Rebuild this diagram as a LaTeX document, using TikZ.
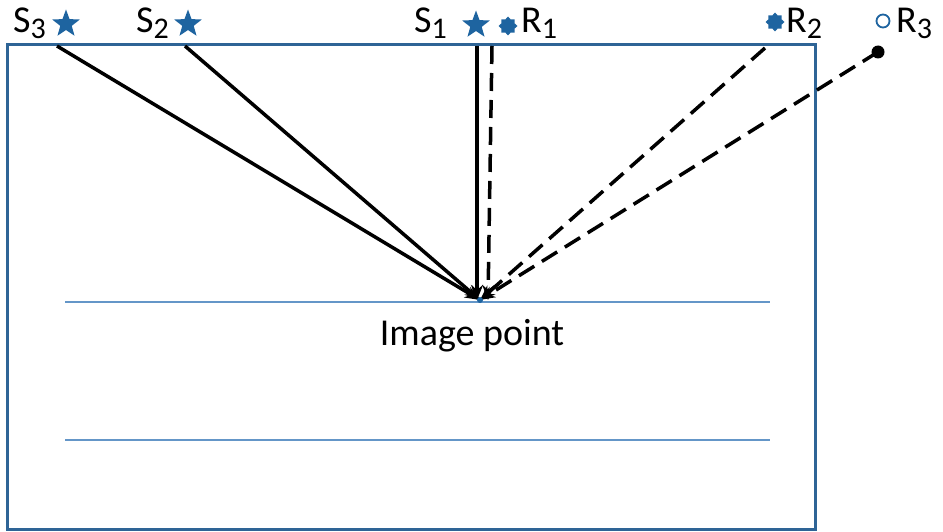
\documentclass[tikz,border=0pt]{standalone}
\usepackage{fontspec}
\setmainfont{Carlito}
\usetikzlibrary{shapes.geometric,arrows.meta}
\definecolor{frameblue}{RGB}{46,100,150}
\definecolor{lineblue}{RGB}{100,150,200}
\definecolor{markblue}{RGB}{30,100,160}
\tikzset{
  lbl/.style={anchor=base west,inner sep=0pt,font=\fontsize{38}{44}\selectfont},
  srcstar/.style={star,star points=5,star point ratio=2.4,fill=markblue,draw=none,minimum size=29pt,inner sep=0pt},
  rdot/.style={star,star points=8,star point ratio=1.35,fill=markblue,draw=none,minimum size=19pt,inner sep=0pt},
  rcirc/.style={circle,draw=markblue,line width=1.8pt,fill=white,minimum size=13pt,inner sep=0pt},
  ray/.style={black,line width=3.5pt,-{Stealth[length=15pt,width=12pt]}},
  dray/.style={ray,dash pattern=on 18pt off 9pt}
}
\newcommand{\sbx}[1]{\raisebox{-0.3ex}{\fontsize{30}{34}\selectfont #1}}
\begin{document}
\begin{tikzpicture}[x=1pt,y=-1pt]
\useasboundingbox (0,0) rectangle (943,532);
\draw[frameblue,line width=3pt] (7,45) rectangle (815,529);
\draw[lineblue,line width=2pt] (65,302) coordinate (l1a) -- (770,302) coordinate (l1b);
\draw[lineblue,line width=2pt] (65,440) coordinate (l2a) -- (770,440) coordinate (l2b);
% labels and markers
\node[lbl] (S3) at (13,33) {S\sbx{3}};
\node[srcstar] (s3star) at (66,24) {};
\node[lbl] (S2) at (136,33) {S\sbx{2}};
\node[srcstar] (s2star) at (188,24) {};
\node[lbl] (S1) at (414,33) {S\sbx{1}};
\node[srcstar] (s1star) at (476,25) {};
\node[rdot] (r1dot) at (508,26) {};
\node[lbl] (R1) at (521,33) {R\sbx{1}};
\node[rdot] (r2dot) at (775,22) {};
\node[lbl] (R2) at (786,33) {R\sbx{2}};
\node[rcirc] (r3circ) at (883,21) {};
\node[lbl] (R3) at (896,33) {R\sbx{3}};
% ray end points
\coordinate (ip) at (480,300);
\coordinate (a3) at (57,46);
\coordinate (a2) at (185,46);
\coordinate (a1) at (477,46);
\coordinate (b1) at (492,46);
\coordinate (b2) at (765,48);
\coordinate (ip1) at (477,300);
\coordinate (ip2) at (488,300);
\node[circle,fill=black,minimum size=13pt,inner sep=0pt] (b3) at (878,52) {};
\draw[ray] (a3) -- (ip);
\draw[ray] (a2) -- (ip);
\draw[ray] (a1) -- (ip1);
\draw[dray] (b1) -- (ip2);
\draw[dray] (b2) -- (ip);
\draw[dray] (b3.center) -- (ip);
\fill[markblue] (ip) circle (3pt);
\node[inner sep=0pt,font=\fontsize{38}{44}\selectfont] (iptext) at (472,336) {Image point};
\end{tikzpicture}
\end{document}
